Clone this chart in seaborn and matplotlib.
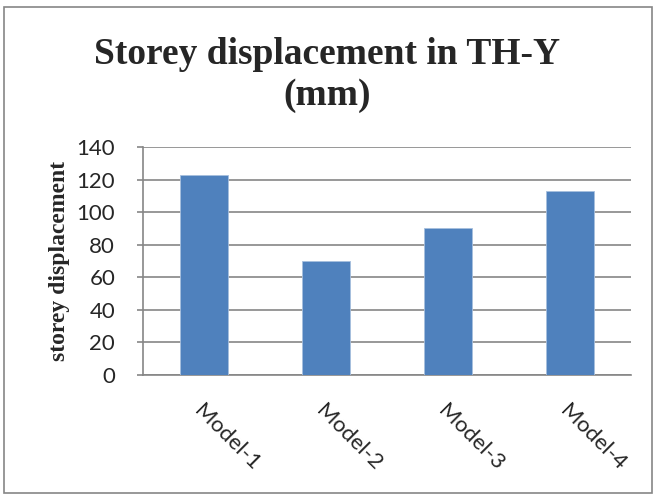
import matplotlib
matplotlib.use("Agg")
import matplotlib.pyplot as plt
import seaborn as sns
import pandas as pd
from matplotlib.patches import Rectangle

models = ["Model-1", "Model-2", "Model-3", "Model-4"]
displacement = [123, 70, 90, 113]
yticks = [0, 20, 40, 60, 80, 100, 120, 140]

df = pd.DataFrame({"model": models, "disp": displacement})

sns.set_style("white")
fig = plt.figure(figsize=(6.54, 4.95), dpi=100)
ax = fig.add_axes([143/654, 1 - 375/495, (631-143)/654, (375-147)/495])

sns.barplot(data=df, x="model", y="disp", color="#4F81BD", width=0.4,
            saturation=1, ax=ax, edgecolor="#A7BFDE", linewidth=0.6, zorder=3)

ax.set_ylim(0, 140)
ax.set_xlim(-0.5, 3.5)
ax.set_yticks(yticks)
ax.yaxis.grid(True, color="#868686", linewidth=1.2, zorder=0)
ax.set_axisbelow(True)
for s in ["top", "right"]:
    ax.spines[s].set_visible(False)
for s in ["left", "bottom"]:
    ax.spines[s].set_color("#868686")
    ax.spines[s].set_linewidth(1.2)

ax.tick_params(axis="y", left=True, length=4, color="#868686", width=1.2,
               labelsize=16, pad=16)
ax.tick_params(axis="x", bottom=False, labelsize=16, pad=15)
for lab in ax.get_yticklabels():
    lab.set_fontfamily("Lato")
ax.set_xticks(range(len(models)))
ax.set_xticklabels(models, rotation=-45, ha="left", rotation_mode="anchor",
                   family="Lato", fontsize=16)

ax.set_xlabel("")
ax.set_ylabel("storey displacement", family="Liberation Serif", fontweight="bold",
              fontsize=17, labelpad=5)

fig.text(0.5, 1 - 75/495, "Storey displacement in TH-Y\n(mm)", ha="center", va="center",
         family="Liberation Serif", fontweight="bold", fontsize=27, linespacing=1.2)

fig.patches.append(Rectangle((4/654, 1 - 493/495), 648/654, 486/495,
                             transform=fig.transFigure, fill=False,
                             edgecolor="#868686", linewidth=1.2))

fig.savefig("out.png", dpi=100)
